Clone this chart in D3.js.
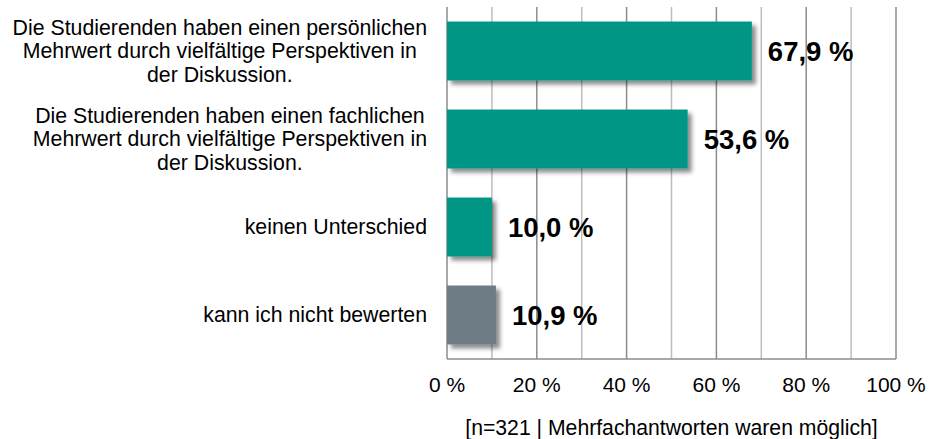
<!DOCTYPE html>
<html>
<head>
	<meta charset="utf-8">
	<title>Mehrwert durch vielfältige Perspektiven</title>
	<script src="https://d3js.org/d3.v7.min.js"></script>
	<style type="text/css">
		body { margin: 0; background: #fff; }
		text { font-family: Arial, "Liberation Sans", sans-serif; fill: #000; }
		.cat { font-size: 21.3px; }
		.tick-label { font-size: 21px; }
		.value { font-size: 27.5px; font-weight: bold; }
		.note { font-size: 21.2px; }
	</style>
</head>
<body>
<div id="chart"></div>
<script type="text/javascript">
var categories = [
	["Die Studierenden haben einen persönlichen", "Mehrwert durch vielfältige Perspektiven in", "der Diskussion."],
	["Die Studierenden haben einen fachlichen", "Mehrwert durch vielfältige Perspektiven in", "der Diskussion."],
	["keinen Unterschied"],
	["kann ich nicht bewerten"]
];
var values = [67.9, 53.6, 10.0, 10.9];
var valueLabels = ["67,9 %", "53,6 %", "10,0 %", "10,9 %"];
var barColors = ["#009685", "#009685", "#009685", "#6d7b85"];
var tickValues = [0, 20, 40, 60, 80, 100];
var tickLabels = ["0 %", "20 %", "40 %", "60 %", "80 %", "100 %"];
var gridValues = [0, 10, 20, 30, 40, 50, 60, 70, 80, 90, 100];
var footnote = "[n=321 | Mehrfachantworten waren möglich]";

var svg_width = 929;
var svg_height = 439;
var plot = {left: 447, right: 896, top: 7, bottom: 359};

var svg = d3.select("#chart")
	.append("svg")
	.attr("width", svg_width)
	.attr("height", svg_height);

var defs = svg.append("defs");
var shadow = defs.append("filter")
	.attr("id", "shadow")
	.attr("x", "-20%").attr("y", "-20%")
	.attr("width", "150%").attr("height", "150%");
shadow.append("feDropShadow")
	.attr("dx", 4).attr("dy", 4)
	.attr("stdDeviation", 2)
	.attr("flood-color", "#000")
	.attr("flood-opacity", 0.45);

var x = d3.scaleLinear()
	.domain([0, 100])
	.range([plot.left, plot.right]);

var y = d3.scaleBand()
	.domain(d3.range(values.length))
	.range([plot.top, plot.bottom])
	.paddingInner(0.33)
	.paddingOuter(0.165);

// gridlines
svg.append("g")
	.selectAll("line")
	.data(gridValues)
	.enter()
	.append("line")
	.attr("x1", function(d) { return x(d); })
	.attr("x2", function(d) { return x(d); })
	.attr("y1", plot.top)
	.attr("y2", plot.bottom)
	.attr("stroke", function(d) { return d % 20 === 0 ? "#8c8c8c" : "#bdbdbd"; })
	.attr("stroke-width", 1.5);

// bottom axis line
svg.append("line")
	.attr("x1", plot.left).attr("x2", plot.right)
	.attr("y1", plot.bottom).attr("y2", plot.bottom)
	.attr("stroke", "#8c8c8c")
	.attr("stroke-width", 1.5);

// bars
svg.append("g")
	.selectAll("rect")
	.data(values)
	.enter()
	.append("rect")
	.attr("x", x(0))
	.attr("y", function(d, i) { return y(i); })
	.attr("width", function(d) { return x(d) - x(0); })
	.attr("height", y.bandwidth())
	.attr("fill", function(d, i) { return barColors[i]; })
	.attr("filter", "url(#shadow)");

// value labels
svg.append("g")
	.selectAll("text")
	.data(values)
	.enter()
	.append("text")
	.attr("class", "value")
	.attr("x", function(d) { return x(d) + 16; })
	.attr("y", function(d, i) { return y(i) + y.bandwidth() / 2; })
	.attr("dy", "0.36em")
	.text(function(d, i) { return valueLabels[i]; });

// category labels: block right-aligned, lines centered in block
var lineHeight = 23.5;
var labelRight = 427;
categories.forEach(function(lines, i) {
	var g = svg.append("g").attr("class", "cat");
	var cy = y(i) + y.bandwidth() / 2;
	var texts = g.selectAll("text")
		.data(lines)
		.enter()
		.append("text")
		.attr("y", function(d, j) { return cy + (j - (lines.length - 1) / 2) * lineHeight; })
		.attr("dy", "0.35em")
		.attr("text-anchor", "middle")
		.text(function(d) { return d; });
	var w = 0;
	texts.each(function() { w = Math.max(w, this.getComputedTextLength()); });
	texts.attr("x", labelRight - w / 2);
});

// x tick labels
svg.append("g")
	.selectAll("text")
	.data(tickValues)
	.enter()
	.append("text")
	.attr("class", "tick-label")
	.attr("x", function(d) { return x(d); })
	.attr("y", 385)
	.attr("dy", "0.35em")
	.attr("text-anchor", "middle")
	.text(function(d, i) { return tickLabels[i]; });

svg.append("text")
	.attr("class", "note")
	.attr("x", (plot.left + plot.right) / 2)
	.attr("y", 428)
	.attr("dy", "0.35em")
	.attr("text-anchor", "middle")
	.text(footnote);
</script>
</body>
</html>
